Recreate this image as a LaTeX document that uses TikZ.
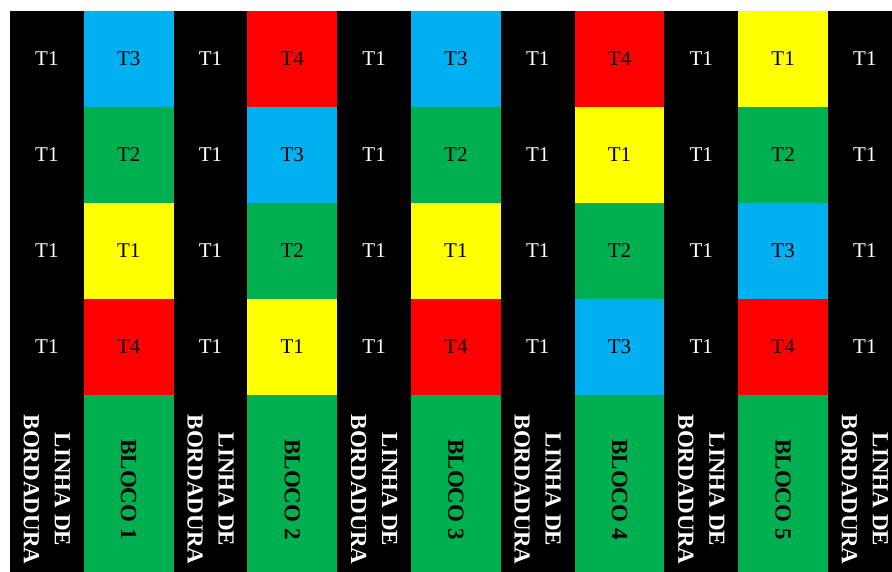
\documentclass[tikz,border=0pt]{standalone}
\usepackage{fontspec}
\setmainfont{Liberation Serif}
\usepackage{tikz}

\definecolor{colT1}{RGB}{255,255,0}
\definecolor{colT2}{RGB}{0,176,80}
\definecolor{colT3}{RGB}{0,176,240}
\definecolor{colT4}{RGB}{255,0,0}

\begin{document}
\begin{tikzpicture}[x=1pt, y=-1pt,
  cell/.style={rectangle, inner sep=0pt, outer sep=0pt, minimum height=96pt,
               font=\fontsize{21}{25}\selectfont},
  bordercell/.style={cell, fill=black, text=white, minimum width=73.8pt},
  plotcell/.style={cell, minimum width=89.8pt},
  sidelabel/.style={rectangle, inner sep=0pt, outer sep=0pt, rotate=-90,
                    align=center, minimum width=190pt,
                    font=\fontsize{23}{31}\selectfont\bfseries}]

  \useasboundingbox (0,0) rectangle (892,572);
  \clip (0,0) rectangle (892,572);

  %% Border lines (T1 everywhere)
  \foreach \c in {0,...,5} {
    \foreach \r in {1,...,4}
      \node[bordercell] (b\c r\r) at (46.9+163.6*\c, 96*\r-37) {T1};
    \node[sidelabel, fill=black, text=white, minimum height=73.8pt]
      (b\c lab) at (46.9+163.6*\c, 489.5) {LINHA DE\\BORDADURA};
  }

  %% Blocks
  \foreach \k/\ta/\tb/\tc/\td in {1/T3/T2/T1/T4, 2/T4/T3/T2/T1,
                                  3/T3/T2/T1/T4, 4/T4/T1/T2/T3, 5/T1/T2/T3/T4} {
    \foreach \t [count=\r] in {\ta,\tb,\tc,\td}
      \node[plotcell, fill=col\t] (k\k r\r) at (163.6*\k-34.9, 96*\r-37) {\t};
    \node[sidelabel, fill=colT2, minimum height=89.8pt]
      (k\k lab) at (163.6*\k-34.9, 489.5) {BLOCO \k};
  }

\end{tikzpicture}
\end{document}
